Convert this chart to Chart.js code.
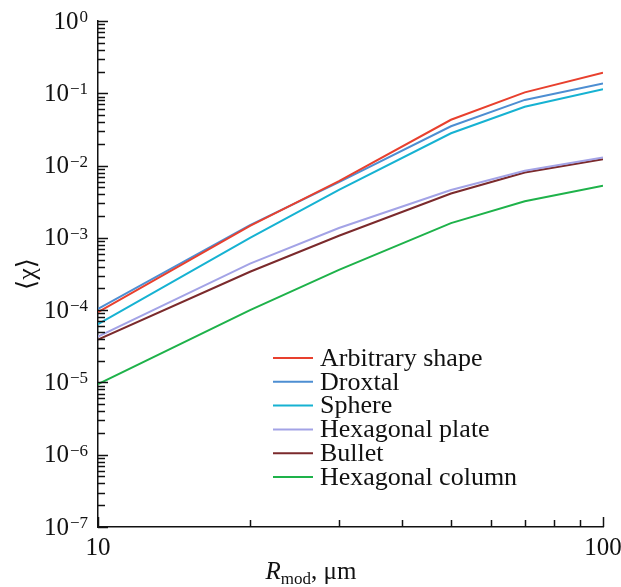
<!DOCTYPE html>
<html>
<head>
<meta charset="utf-8">
<script src="https://cdn.jsdelivr.net/npm/chart.js@4"></script>
<style>
body { margin: 0; background: #fff; }
</style>
</head>
<body>
<canvas id="chiChart" width="621" height="587"></canvas>
<script>
// radius values (um)
var radii = [10, 20, 30, 50, 70, 100];

var arbitraryShape = [9.4e-5, 1.46e-3, 6.1e-3, 4.3e-2, 0.103, 0.193];
var droxtal = [1.04e-4, 1.5e-3, 5.9e-3, 3.5e-2, 0.081, 0.137];
var sphere = [6.4e-5, 1.0e-3, 4.6e-3, 2.8e-2, 0.065, 0.114];
var hexPlate = [4.3e-5, 4.4e-4, 1.37e-3, 4.6e-3, 8.5e-3, 0.0129];
var bullet = [3.9e-5, 3.4e-4, 1.07e-3, 4.1e-3, 8.0e-3, 0.0122];
var hexColumn = [9.5e-6, 1.0e-4, 3.6e-4, 1.6e-3, 3.2e-3, 5.25e-3];

var seriesNames = ["Arbitrary shape", "Droxtal", "Sphere", "Hexagonal plate", "Bullet", "Hexagonal column"];
var seriesValues = [arbitraryShape, droxtal, sphere, hexPlate, bullet, hexColumn];
var seriesColors = ['#e8402e', '#4d8ed2', '#16b2d2', '#a3a3e6', '#7b2a2c', '#1eb24a'];

var yTickExponents = [0, -1, -2, -3, -4, -5, -6, -7];
var xTickLabels = [10, 100];

function toPoints(vals) {
  return vals.map(function (v, i) { return {x: radii[i], y: v}; });
}

// keep only 1..9 x 10^n ticks
function tickKind(v) {
  var lg = Math.log10(v);
  var dec = Math.pow(10, Math.floor(lg + 1e-9));
  var m = v / dec;
  if (Math.abs(m - Math.round(m)) > 1e-6) return null;
  return Math.round(m) === 1 ? 'major' : 'minor';
}

var serif = "'Liberation Serif', 'DejaVu Serif', serif";

// inside ticks, labels with superscripts, titles and legend
var axisDecor = {
  id: 'axisDecor',
  afterDraw: function (chart) {
    var ctx = chart.ctx;
    var xs = chart.scales.x, ys = chart.scales.y;
    var area = chart.chartArea;
    ctx.save();
    ctx.strokeStyle = '#111';
    ctx.lineWidth = 1.5;

    ys.ticks.forEach(function (t) {
      var kind = tickKind(t.value);
      if (!kind) return;
      var p = Math.round(ys.getPixelForValue(t.value)) + 0.5;
      var len = kind === 'major' ? 10 : 7;
      ctx.beginPath();
      ctx.moveTo(area.left, p);
      ctx.lineTo(area.left + len, p);
      ctx.stroke();
    });
    xs.ticks.forEach(function (t) {
      var kind = tickKind(t.value);
      if (!kind) return;
      var p = Math.round(xs.getPixelForValue(t.value)) + 0.5;
      var len = kind === 'major' ? 10 : 7;
      ctx.beginPath();
      ctx.moveTo(p, area.bottom);
      ctx.lineTo(p, area.bottom - len);
      ctx.stroke();
    });

    ctx.fillStyle = '#111';
    // y tick labels: 10^n
    yTickExponents.forEach(function (e) {
      var p = ys.getPixelForValue(Math.pow(10, e));
      var sup = e === 0 ? '0' : '\u2212' + Math.abs(e);
      ctx.font = '17px ' + serif;
      var supW = ctx.measureText(sup).width;
      var right = area.left - 10;
      ctx.textAlign = 'right';
      ctx.textBaseline = 'alphabetic';
      ctx.fillText(sup, right, p + 1);
      ctx.font = '25px ' + serif;
      ctx.textBaseline = 'middle';
      ctx.fillText('10', right - supW - 1, p + 1);
    });
    // x tick labels
    ctx.font = '25px ' + serif;
    ctx.textAlign = 'center';
    ctx.textBaseline = 'top';
    xTickLabels.forEach(function (v) {
      ctx.fillText(String(v), xs.getPixelForValue(v), area.bottom + 9);
    });

    // x title: R_mod, μm
    var parts = [
      {t: 'R', f: 'italic 25px ' + serif, dy: 0},
      {t: 'mod', f: '17px ' + serif, dy: 5},
      {t: ', \u03bcm', f: '25px ' + serif, dy: 0}
    ];
    var total = 0;
    parts.forEach(function (pt) { ctx.font = pt.f; pt.w = ctx.measureText(pt.t).width; total += pt.w; });
    var cx = 311 - total / 2;
    ctx.textAlign = 'left';
    ctx.textBaseline = 'alphabetic';
    parts.forEach(function (pt) {
      ctx.font = pt.f;
      ctx.fillText(pt.t, cx, 579 + pt.dy);
      cx += pt.w;
    });

    // y title
    ctx.save();
    ctx.translate(28, 274);
    ctx.rotate(-Math.PI / 2);
    ctx.font = '26px ' + serif;
    ctx.textAlign = 'center';
    ctx.textBaseline = 'middle';
    ctx.fillText('\u27e8\u03c7\u27e9', 0, 0);
    ctx.restore();

    // legend
    ctx.font = '26px ' + serif;
    ctx.textAlign = 'left';
    ctx.textBaseline = 'middle';
    chart.data.datasets.forEach(function (ds, i) {
      var y = 358 + i * 23.8;
      ctx.strokeStyle = ds.borderColor;
      ctx.lineWidth = 2;
      ctx.beginPath();
      ctx.moveTo(273, y);
      ctx.lineTo(313, y);
      ctx.stroke();
      ctx.fillStyle = '#111';
      ctx.fillText(ds.label, 320, y + 1);
    });
    ctx.restore();
  }
};

var ctx = document.getElementById('chiChart').getContext('2d');
var chiChart = new Chart(ctx, {
  type: 'line',
  data: {
    datasets: seriesNames.map(function (name, i) {
      return {
        label: name,
        data: toPoints(seriesValues[i]),
        borderColor: seriesColors[i],
        backgroundColor: seriesColors[i],
        borderWidth: 2,
        pointRadius: 0,
        tension: 0,
        fill: false
      };
    })
  },
  options: {
    responsive: false,
    animation: false,
    layout: {padding: {left: 98, right: 18, top: 21, bottom: 60}},
    plugins: {legend: {display: false}, tooltip: {enabled: false}},
    scales: {
      x: {
        type: 'logarithmic', min: 10, max: 100,
        ticks: {display: false, autoSkip: false},
        grid: {display: false, drawTicks: false},
        border: {display: true, color: '#111', width: 1.5}
      },
      y: {
        type: 'logarithmic', min: 1e-7, max: 1,
        ticks: {display: false, autoSkip: false},
        grid: {display: false, drawTicks: false},
        border: {display: true, color: '#111', width: 1.5}
      }
    }
  },
  plugins: [axisDecor]
});
</script>
</body>
</html>
